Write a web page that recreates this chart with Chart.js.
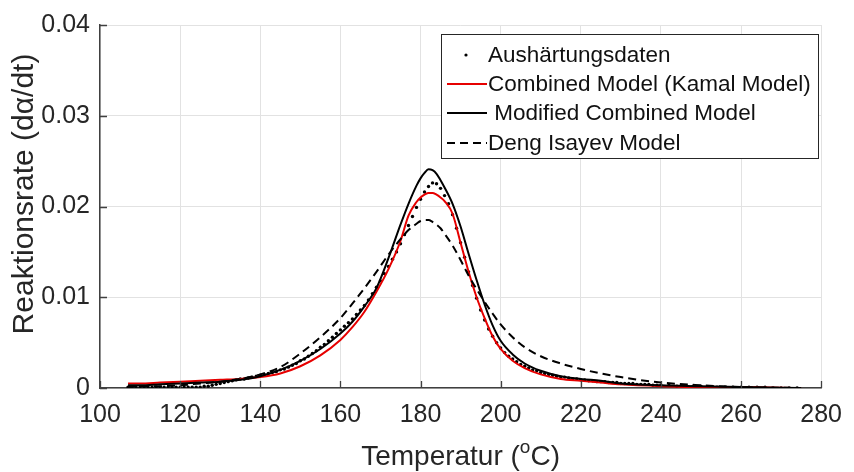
<!DOCTYPE html>
<html>
<head>
<meta charset="utf-8">
<script src="https://cdn.jsdelivr.net/npm/chart.js@4.4.0/dist/chart.umd.min.js"></script>
<style>
  html, body { margin: 0; padding: 0; background: #fff; }
  canvas { display: block; }
</style>
</head>
<body>
<canvas id="graficoReaktion" width="854" height="472"></canvas>
<script>
// Temperaturen der Modellkurven (°C)
const tempModel = [107, 110, 115, 120, 125, 130, 135, 140, 145, 150, 155, 160, 163, 166, 169, 172, 175, 177, 179, 180,
                   181, 182, 183, 184, 185, 186, 188, 190, 192, 194, 196, 198, 200, 203, 206, 210, 215, 220, 225, 230,
                   240, 250, 260, 275];

const kamalModel = [0.0005, 0.0005, 0.0006, 0.0007, 0.0008, 0.0009, 0.0010, 0.0012, 0.0016, 0.0024, 0.0036, 0.0053, 0.0067, 0.0084, 0.0106, 0.0131, 0.0162, 0.0190, 0.0205, 0.0210,
                    0.0213, 0.0215, 0.0215, 0.0213, 0.0210, 0.0206, 0.0192, 0.0160, 0.0128, 0.0100, 0.0077, 0.0057, 0.0043, 0.0030, 0.0022, 0.0015, 0.0010, 0.0008, 0.0006, 0.0004,
                    0.0002, 0.0001, 0.0001, 0.0000];

const modifiedModel = [0.0003, 0.0003, 0.0004, 0.0005, 0.0006, 0.0007, 0.0009, 0.0013, 0.0020, 0.0030, 0.0043, 0.0060, 0.0073, 0.0090, 0.0110, 0.0143, 0.0180, 0.0203, 0.0223, 0.0231,
                       0.0237, 0.0241, 0.0240, 0.0236, 0.0229, 0.0221, 0.0203, 0.0178, 0.0148, 0.0119, 0.0092, 0.0069, 0.0052, 0.0037, 0.0027, 0.0019, 0.0013, 0.0010, 0.0008, 0.0005,
                       0.0003, 0.0002, 0.0001, 0.0000];

const dengIsayev = [0.0001, 0.0002, 0.0002, 0.0003, 0.0005, 0.0007, 0.0010, 0.0015, 0.0023, 0.0038, 0.0056, 0.0077, 0.0093, 0.0110, 0.0128, 0.0147, 0.0164, 0.0174, 0.0181, 0.0184,
                    0.0185, 0.0185, 0.0183, 0.0180, 0.0176, 0.0170, 0.0157, 0.0141, 0.0124, 0.0109, 0.0095, 0.0082, 0.0070, 0.0056, 0.0045, 0.0035, 0.0027, 0.0021, 0.0016, 0.0012,
                    0.0006, 0.0003, 0.0001, 0.0000];

// Messpunkte (Aushärtungsdaten)
const tempDaten = [107, 108, 109, 110, 111, 112, 113, 114, 115, 116,
                   117, 118, 119, 120, 121, 122, 123, 124, 125, 126,
                   127, 128, 129, 130, 131, 132, 133, 134, 135, 136,
                   137, 138, 139, 140, 141, 142, 143, 144, 145, 146,
                   147, 148, 149, 150, 151, 152, 153, 154, 155, 156,
                   157, 158, 159, 160, 161, 162, 163, 164, 165, 166,
                   167, 168, 169, 170, 171, 172, 173, 174, 175, 176,
                   177, 178, 179, 180, 181, 182, 183, 184, 185, 186,
                   187, 188, 189, 190, 191, 192, 193, 194, 195, 196,
                   197, 198, 199, 200, 201, 202, 203, 204, 205, 206,
                   207, 208, 209, 210, 211, 212, 213, 214, 215, 216,
                   217, 218, 219, 220, 221, 222, 223, 224, 225, 226,
                   227, 228, 229, 230, 231, 232, 233, 234, 235, 236,
                   237, 238, 239, 240, 242, 244, 246, 248, 250, 252,
                   254, 256, 258, 260, 262, 264, 266, 268, 270, 272, 274];

const rateDaten = [0.0001, 0.0001, 0.0001, 0.0001, 0.0001, 0.0001, 0.0001, 0.0001, 0.0001, 0.0001,
                   0.0001, 0.0001, 0.0001, 0.0001, 0.0001, 0.0001, 0.0001, 0.0001, 0.0001, 0.0002,
                   0.0002, 0.0003, 0.0004, 0.0005, 0.0006, 0.0007, 0.0008, 0.0009, 0.0010, 0.0010,
                   0.0011, 0.0012, 0.0013, 0.0014, 0.0015, 0.0016, 0.0017, 0.0018, 0.0020, 0.0021,
                   0.0023, 0.0025, 0.0027, 0.0030, 0.0032, 0.0035, 0.0038, 0.0041, 0.0045, 0.0048,
                   0.0052, 0.0056, 0.0060, 0.0064, 0.0068, 0.0072, 0.0076, 0.0081, 0.0086, 0.0091,
                   0.0097, 0.0104, 0.0111, 0.0118, 0.0126, 0.0134, 0.0142, 0.0150, 0.0159, 0.0169,
                   0.0179, 0.0189, 0.0199, 0.0208, 0.0216, 0.0222, 0.0226, 0.0225, 0.0220, 0.0212,
                   0.0203, 0.0191, 0.0176, 0.0160, 0.0144, 0.0128, 0.0113, 0.0099, 0.0086, 0.0075,
                   0.0065, 0.0057, 0.0050, 0.0044, 0.0039, 0.0035, 0.0032, 0.0029, 0.0026, 0.0024,
                   0.0022, 0.0020, 0.0019, 0.0017, 0.0016, 0.0015, 0.0014, 0.0013, 0.0012, 0.0012,
                   0.0011, 0.0010, 0.0010, 0.0009, 0.0009, 0.0008, 0.0008, 0.0007, 0.0007, 0.0007,
                   0.0006, 0.0006, 0.0006, 0.0005, 0.0005, 0.0005, 0.0005, 0.0004, 0.0004, 0.0004,
                   0.0004, 0.0003, 0.0003, 0.0003, 0.0003, 0.0002, 0.0002, 0.0002, 0.0002, 0.0001,
                   0.0001, 0.0001, 0.0001, 0.0001, 0.0001, 0.0001, 0.0001, 0.0000, 0.0000, 0.0000, 0.0000];

const xTicks = [100, 120, 140, 160, 180, 200, 220, 240, 260, 280];
const yTickLabels = ['0', '0.01', '0.02', '0.03', '0.04'];
const legendLabels = ['Aushärtungsdaten', 'Combined Model (Kamal Model)', ' Modified Combined Model', 'Deng Isayev Model'];

const FONT = "'Liberation Sans', Arial, Helvetica, sans-serif";
const TEXT_COLOR = '#262626';

function toPoints(xs, ys) {
    return xs.map((x, i) => ({ x: x, y: ys[i] }));
}

// Ticks innen (wie MATLAB)
const innerTicks = {
    id: 'innerTicks',
    afterDatasetsDraw(chart) {
        const { ctx, chartArea, scales } = chart;
        ctx.save();
        ctx.strokeStyle = '#404040';
        ctx.lineWidth = 1.3;
        ctx.beginPath();
        xTicks.forEach(t => {
            const px = Math.round(scales.x.getPixelForValue(t)) + 0.5;
            ctx.moveTo(px, chartArea.bottom);
            ctx.lineTo(px, chartArea.bottom - 7);
        });
        yTickLabels.forEach((_, i) => {
            const py = Math.round(scales.y.getPixelForValue(i * 0.01)) + 0.5;
            ctx.moveTo(chartArea.left, py);
            ctx.lineTo(chartArea.left + 7, py);
        });
        ctx.stroke();
        ctx.restore();
    }
};

// Achsentitel mit hochgestelltem o
const achsenTitel = {
    id: 'achsenTitel',
    afterDraw(chart) {
        const { ctx, chartArea } = chart;
        ctx.save();
        ctx.fillStyle = TEXT_COLOR;
        ctx.textBaseline = 'alphabetic';
        ctx.textAlign = 'left';

        const big = '28px ' + FONT;
        const small = '19px ' + FONT;
        const a = 'Temperatur (', b = 'o', c = 'C)';
        ctx.font = big;
        const wa = ctx.measureText(a).width, wc = ctx.measureText(c).width;
        ctx.font = small;
        const wb = ctx.measureText(b).width;
        let x0 = (chartArea.left + chartArea.right) / 2 - (wa + wb + wc) / 2;
        const yb = 465;
        ctx.font = big;
        ctx.fillText(a, x0, yb);
        ctx.font = small;
        ctx.fillText(b, x0 + wa, yb - 12);
        ctx.font = big;
        ctx.fillText(c, x0 + wa + wb, yb);

        ctx.translate(25, 194);
        ctx.rotate(-Math.PI / 2);
        ctx.textAlign = 'center';
        ctx.textBaseline = 'middle';
        ctx.font = '30px ' + FONT;
        ctx.fillText('Reaktionsrate (dα/dt)', 0, 0);
        ctx.restore();
    }
};

// Legende im Plotbereich (oben rechts)
const legendeBox = {
    id: 'legendeBox',
    afterDraw(chart) {
        const { ctx } = chart;
        const L = 441, T = 34, R = 818, B = 158;
        ctx.save();
        ctx.fillStyle = '#fff';
        ctx.fillRect(L, T, R - L, B - T);
        ctx.strokeStyle = '#262626';
        ctx.lineWidth = 1;
        ctx.strokeRect(L + 0.5, T + 0.5, R - L, B - T);

        const rows = [55, 84, 113, 143];
        const ds = chart.data.datasets;
        ctx.font = '22.5px ' + FONT;
        ctx.textBaseline = 'middle';
        ctx.textAlign = 'left';
        legendLabels.forEach((lab, i) => {
            const y = rows[i];
            const d = ds[i];
            if (i === 0) {
                ctx.beginPath();
                ctx.fillStyle = d.pointBackgroundColor;
                ctx.arc(466, y, 1.6, 0, Math.PI * 2);
                ctx.fill();
            } else {
                ctx.beginPath();
                ctx.strokeStyle = d.borderColor;
                ctx.lineWidth = d.borderWidth;
                ctx.setLineDash(d.borderDash || []);
                ctx.moveTo(447, y);
                ctx.lineTo(487, y);
                ctx.stroke();
                ctx.setLineDash([]);
            }
            ctx.fillStyle = '#111';
            ctx.fillText(lab, 488, y + 1);
        });
        ctx.restore();
    }
};

const ctxReaktion = document.getElementById('graficoReaktion').getContext('2d');

new Chart(ctxReaktion, {
    type: 'scatter',
    data: {
        datasets: [
            {
                label: legendLabels[0],
                data: toPoints(tempDaten, rateDaten),
                showLine: false,
                pointRadius: 1.7,
                pointBackgroundColor: '#000',
                pointBorderWidth: 0,
                order: 4
            },
            {
                label: legendLabels[1],
                data: toPoints(tempModel, kamalModel),
                showLine: true,
                borderColor: '#e60000',
                borderWidth: 2,
                pointRadius: 0,
                cubicInterpolationMode: 'monotone',
                order: 3
            },
            {
                label: legendLabels[2],
                data: toPoints(tempModel, modifiedModel),
                showLine: true,
                borderColor: '#000',
                borderWidth: 2,
                pointRadius: 0,
                cubicInterpolationMode: 'monotone',
                order: 2
            },
            {
                label: legendLabels[3],
                data: toPoints(tempModel, dengIsayev),
                showLine: true,
                borderColor: '#000',
                borderWidth: 2,
                borderDash: [8, 5],
                pointRadius: 0,
                cubicInterpolationMode: 'monotone',
                order: 1
            }
        ]
    },
    options: {
        responsive: false,
        animation: false,
        devicePixelRatio: 1,
        layout: { padding: { left: 0, right: 24, top: 23, bottom: 0 } },
        plugins: {
            legend: { display: false },
            tooltip: { enabled: false },
            title: { display: false }
        },
        scales: {
            x: {
                type: 'linear',
                min: 100,
                max: 280,
                afterBuildTicks: (scale) => { scale.ticks = xTicks.map(v => ({ value: v })); },
                afterFit: (scale) => { scale.height = 84; },
                grid: { color: '#e2e2e2', lineWidth: 1, drawTicks: false },
                border: { display: true, color: '#404040', width: 1.5 },
                ticks: {
                    padding: 12,
                    color: TEXT_COLOR,
                    font: { family: FONT, size: 25 },
                    maxRotation: 0,
                    callback: (v) => String(v)
                }
            },
            y: {
                type: 'linear',
                min: 0,
                max: 0.04,
                afterBuildTicks: (scale) => { scale.ticks = yTickLabels.map((_, i) => ({ value: i * 0.01 })); },
                afterFit: (scale) => { scale.width = 100; },
                grid: { color: '#e2e2e2', lineWidth: 1, drawTicks: false },
                border: { display: true, color: '#404040', width: 1.5 },
                ticks: {
                    padding: 10,
                    color: TEXT_COLOR,
                    font: { family: FONT, size: 25 },
                    callback: (v, i) => yTickLabels[i]
                }
            }
        }
    },
    plugins: [innerTicks, achsenTitel, legendeBox]
});
</script>
</body>
</html>
